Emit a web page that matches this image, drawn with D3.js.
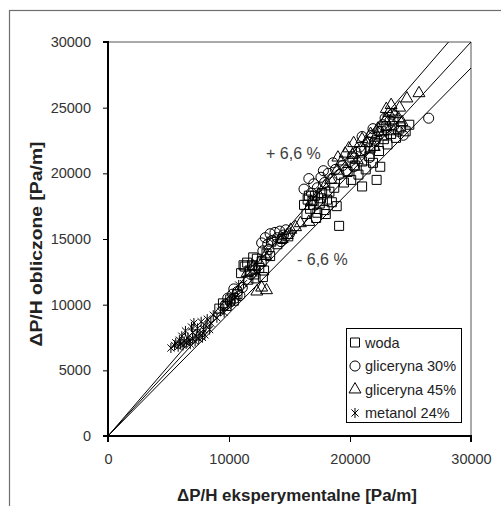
<!DOCTYPE html>
<html><head><meta charset="utf-8">
<script src="https://cdn.jsdelivr.net/npm/d3@7"></script>
<style>body{margin:0;background:#fff}svg{display:block}</style>
</head><body>
<svg id="c" width="501" height="506"></svg>
<script>
const xTicks = [0, 10000, 20000, 30000];
const yTicks = [0, 5000, 10000, 15000, 20000, 25000, 30000];
const seriesNames = ["woda", "gliceryna 30%", "gliceryna 45%", "metanol 24%"];
const boundFactors = [1.066, 1.0, 0.934];
const boundLabels = ["+ 6,6 %", "- 6,6 %"];

const woda = [[9200,9700],[9500,10100],[9800,9900],[10100,10400],[10400,10300],[10700,10800],
[11000,12400],[11300,12900],[11500,13200],[11700,12600],[11900,13000],[12100,12300],[12300,13500],[12500,12800],[12700,13300],[12900,12600],[13100,13900],[13400,13700],[12200,12000],[11600,11900],[12800,12100],[11200,13000],[12000,13600],
[13500,14800],[14000,14600],[14400,15000],[14900,15200],
[16200,17600],[16500,18000],[16700,17300],[16900,17900],[17100,18300],[17300,17000],[17500,17700],[17700,18500],[17900,17200],[18100,18000],[18300,18600],[18500,17800],[18700,18900],[18900,17500],[19100,16000],[16400,16900],[17200,16600],[18000,16900],[16600,18300],[17000,17600],[17600,18100],
[19500,19300],[19800,20100],[20100,19500],[20400,20600],[20700,19900],[21000,20900],[21300,20300],[21600,21300],[21900,20800],[22200,19500],[22500,20500],[21000,19000],[20200,21200],[20900,21700],[21700,21900],
[22000,22100],[22400,21700],[22800,22600],[23100,22200],[23400,23000],[23800,22700],[24200,23500],[24600,23200],[23000,23600],[22600,23200],[23600,24100],[24900,23700]];

const gliceryna30 = [[9700,10000],[9900,10500],[10100,10200],[10300,10800],[10500,10500],[10700,11000],[10900,10700],[11100,11300],[10400,11200],
[11800,12300],[12200,12700],
[12700,14700],[13000,15100],[13200,14600],[13400,15400],[13600,14900],[13800,15500],[14000,15100],[14200,15600],[14500,15300],[14700,15700],[15000,15400],[13300,14200],[12800,14100],[14300,14800],
[16200,18800],[16600,19600],[16800,18500],[17000,19200],[17300,18900],[17600,19700],[17900,19300],[18200,20000],[18500,19600],[18800,20300],[19100,19900],[19400,20600],[19700,20200],[20000,20900],[17800,20200],[18600,20800],
[20500,21600],[20800,22000],[21200,21800],[21500,22400],[21800,22900],[22100,22500],[22400,23200],[22700,23700],[23000,23300],[23300,24000],[23600,23600],[22900,24200],[21900,23400],[24000,23200],[26500,24200],[21600,21200],[20300,20500],[24400,22900],[21000,22800],[23500,24500]];

const gliceryna45 = [[12300,11000],[13100,11100],[12700,11300],
[11500,12400],[12000,12900],[12500,13200],[13000,13700],
[14800,15300],[15100,15700],[15500,15900],[15900,16200],[14400,15000],
[16600,16300],
[16800,17800],[17400,18400],[17900,19000],[18400,19500],[18900,20200],[19300,20900],[19600,21500],[19900,21900],[20300,22300],[20200,21400],[19000,21200],
[20600,21000],[21000,22600],[21400,22300],[21700,23000],[22000,22000],[22300,23400],[22600,22800],[22900,24000],[23200,24600],[23000,24900],[23400,25200],[23700,24500],[24100,25000],[24700,25700],[25700,26100],[24000,24200],[23600,23200],[22200,22900],[24300,23900]];

const metanol24 = [[5200,6700],[5500,6900],[5800,6800],[6000,7000],[6200,6900],[6300,7200],[6500,7100],[6700,7300],[6800,7000],[7000,7400],[7200,7200],[7300,7600],[7500,7400],[7600,7800],[7800,7500],[8000,7700],[6100,7600],[6400,8000],[6900,8300],[7100,8600],[7400,8200],[7700,8700],[8200,8900],[8500,8600],[8700,9200],[9000,9000],[9300,9500],[9600,9400],[9900,9900],[10200,10200],[10500,10600],[5600,7100],[6600,7500],[7900,8100],[8400,8100],[11200,11600],[12300,12500],[10800,11500],[5900,7300],[7000,7900],[8100,8400]];

const svg = d3.select("#c");
const L = 108, R = 471, T = 42, B = 436;
const x = d3.scaleLinear().domain([0, 30000]).range([L, R]);
const y = d3.scaleLinear().domain([0, 30000]).range([B, T]);
const FONT = "'Liberation Sans', Arial, sans-serif";

svg.append("rect").attr("x", 9.5).attr("y", 10.5).attr("width", 600).attr("height", 600)
  .attr("fill", "none").attr("stroke", "#6e6e6e").attr("stroke-width", 1.2);

svg.append("path").attr("d", `M${L},${T}H${R}V${B}`).attr("fill", "none")
  .attr("stroke", "#555").attr("stroke-width", 1);

svg.append("clipPath").attr("id", "pc").append("rect")
  .attr("x", L).attr("y", T).attr("width", R - L).attr("height", B - T);

const g = svg.append("g").attr("clip-path", "url(#pc)");
boundFactors.forEach(f => {
  g.append("line").attr("x1", x(0)).attr("y1", y(0)).attr("x2", x(40000)).attr("y2", y(40000 * f))
    .attr("stroke", "#000").attr("stroke-width", 1);
});

const yAxis = d3.axisLeft(y).tickValues(yTicks).tickSize(5).tickPadding(12).tickFormat(d3.format("d"));
const xAxis = d3.axisBottom(x).tickValues(xTicks).tickSize(6).tickPadding(12).tickFormat(d3.format("d"));
const ya = svg.append("g").attr("transform", `translate(${L},0)`).call(yAxis);
const xa = svg.append("g").attr("transform", `translate(0,${B})`).call(xAxis);
[ya, xa].forEach(a => {
  a.select(".domain").attr("stroke", "#000").attr("stroke-width", 2);
  a.selectAll(".tick line").attr("stroke", "#000").attr("stroke-width", 1);
  a.selectAll(".tick text").attr("font-family", FONT).attr("font-size", 14.5).attr("fill", "#333");
});
ya.select(".domain").attr("d", `M-5,${B}H0V${T}H-5`);
xa.select(".domain").attr("d", `M${L},6V0H${R}V6`);

const sq = d3.symbol().type(d3.symbolSquare).size(81)();
const ci = d3.symbol().type(d3.symbolCircle).size(80)();
const tr = d3.symbol().type(d3.symbolTriangle).size(62)();
const s = 5, c = s * 0.71;
const ast = `M0,${-s}V${s}M${-c},${-c}L${c},${c}M${-c},${c}L${c},${-c}`;
const symPaths = [sq, ci, tr, ast];
const data = [woda, gliceryna30, gliceryna45, metanol24];

const pg = svg.append("g").attr("clip-path", "url(#pc)");
data.forEach((arr, i) => {
  pg.selectAll(null).data(arr).enter().append("path")
    .attr("d", symPaths[i])
    .attr("transform", d => `translate(${x(d[0])},${y(d[1])})`)
    .attr("fill", "none").attr("stroke", "#000").attr("stroke-width", 1);
});

svg.append("text").attr("x", 266).attr("y", 159).text(boundLabels[0])
  .attr("font-family", FONT).attr("font-size", 16).attr("fill", "#404040");
svg.append("text").attr("x", 297).attr("y", 265).text(boundLabels[1])
  .attr("font-family", FONT).attr("font-size", 16).attr("fill", "#404040");

const lg = svg.append("g");
lg.append("rect").attr("x", 346.5).attr("y", 328.5).attr("width", 115).attr("height", 94)
  .attr("fill", "#fff").attr("stroke", "#000").attr("stroke-width", 1);
const rowY = [342.5, 366, 389.5, 413];
seriesNames.forEach((n, i) => {
  lg.append("path").attr("d", symPaths[i]).attr("transform", `translate(355,${rowY[i]})`)
    .attr("fill", "none").attr("stroke", "#000").attr("stroke-width", 1);
  lg.append("text").attr("x", 365).attr("y", rowY[i]).attr("dy", "0.35em").text(n)
    .attr("font-family", FONT).attr("font-size", 14.5).attr("fill", "#222");
});

svg.append("text").attr("x", 297).attr("y", 501).attr("text-anchor", "middle")
  .attr("font-family", FONT).attr("font-size", 16).attr("font-weight", "bold").attr("fill", "#222")
  .attr("textLength", 240).attr("lengthAdjust", "spacingAndGlyphs")
  .text("ΔP/H eksperymentalne  [Pa/m]");
svg.append("text").attr("transform", "translate(42,244) rotate(-90)").attr("text-anchor", "middle")
  .attr("font-family", FONT).attr("font-size", 16).attr("font-weight", "bold").attr("fill", "#222")
  .attr("textLength", 205).attr("lengthAdjust", "spacingAndGlyphs")
  .text("ΔP/H obliczone [Pa/m]");
</script>
</body></html>
